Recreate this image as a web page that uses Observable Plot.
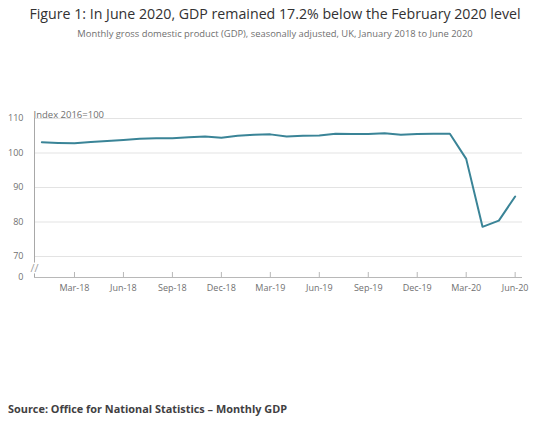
<!DOCTYPE html>
<html><head><meta charset="utf-8">
<script src="https://cdn.jsdelivr.net/npm/d3@7"></script>
<script src="https://cdn.jsdelivr.net/npm/@observablehq/plot@0.6"></script>
<style>
body{margin:0;background:#fff;font-family:"Open Sans",sans-serif;}
#wrap{position:relative;width:550px;height:431px;overflow:hidden;}
.t{position:absolute;white-space:nowrap;}
#title{left:0;width:550px;text-align:center;top:7px;font-size:14.2px;line-height:14px;color:#323132;}
#subtitle{left:0;width:550px;text-align:center;top:29px;font-size:9.4px;line-height:9px;color:#707070;}
#chart{position:absolute;left:0;top:100px;}
#source{left:8px;top:403px;font-size:10.9px;line-height:11px;font-weight:bold;color:#414042;}
</style></head>
<body>
<div id="wrap">
  <div class="t" id="title">Figure 1: In June 2020, GDP remained 17.2% below the February 2020 level</div>
  <div class="t" id="subtitle">Monthly gross domestic product (GDP), seasonally adjusted, UK, January 2018 to June 2020</div>
  <div id="chart"></div>
  <div class="t" id="source">Source: Office for National Statistics – Monthly GDP</div>
</div>
<script>
const months = ["Jan-18","Feb-18","Mar-18","Apr-18","May-18","Jun-18","Jul-18","Aug-18","Sep-18","Oct-18","Nov-18","Dec-18",
                "Jan-19","Feb-19","Mar-19","Apr-19","May-19","Jun-19","Jul-19","Aug-19","Sep-19","Oct-19","Nov-19","Dec-19",
                "Jan-20","Feb-20","Mar-20","Apr-20","May-20","Jun-20"];
const gdp = [103.1,102.9,102.8,103.2,103.5,103.8,104.1,104.3,104.3,104.6,104.8,104.4,
             105.0,105.3,105.4,104.8,105.0,105.1,105.6,105.5,105.5,105.7,105.3,105.5,
             105.6,105.6,98.3,78.6,80.4,87.4];
const xTickLabels = ["Mar-18","Jun-18","Sep-18","Dec-18","Mar-19","Jun-19","Sep-19","Dec-19","Mar-20","Jun-20"];
const yTicks = [0,70,80,90,100,110];
const yGrid = [70,80,90,100,110];
const yBreak = [30];
const xDomain = [-0.45, 29.45];

const data = months.map((m, i) => ({i, m, v: gdp[i]}));
const xTickIdx = xTickLabels.map(t => months.indexOf(t));

const chart = Plot.plot({
  width: 550, height: 200,
  marginLeft: 34, marginRight: 28, marginTop: 18, marginBottom: 23,
  style: {fontFamily: "Open Sans", fontSize: "9px", color: "#707070", background: "#fff", overflow: "visible"},
  x: {type: "linear", domain: xDomain},
  y: {type: "linear", domain: [0, 70, 110], range: [177, 156, 18]},
  marks: [
    Plot.gridY(yGrid, {stroke: "#e3e3e3", strokeOpacity: 1}),
    Plot.ruleY([0], {stroke: "#b8b8b8"}),
    Plot.ruleX([xDomain[0]], {stroke: "#a8a8a8", strokeWidth: 1}),
    Plot.text(yBreak, {x: () => xDomain[0], y: d => d, text: () => "//", textAnchor: "middle", fontSize: 11, fill: "#a0a0a0", stroke: "#fff", strokeWidth: 3}),
    Plot.axisY(yTicks, {tickSize: 0, tickPadding: 11, fill: "#707070", label: null}),
    Plot.axisX(xTickIdx, {tickSize: -5, tickPadding: 12, stroke: "#b8b8b8", fill: "#707070", tickFormat: i => months[i], label: null}),
    Plot.text(["Index 2016=100"], {frameAnchor: "top-left", text: d => d, dy: -7, dx: -1, fill: "#707070", textAnchor: "start", fontSize: 9.5}),
    Plot.line(data, {x: "i", y: "v", stroke: "#3a8497", strokeWidth: 2})
  ]
});
document.getElementById("chart").appendChild(chart);
</script>
</body></html>
